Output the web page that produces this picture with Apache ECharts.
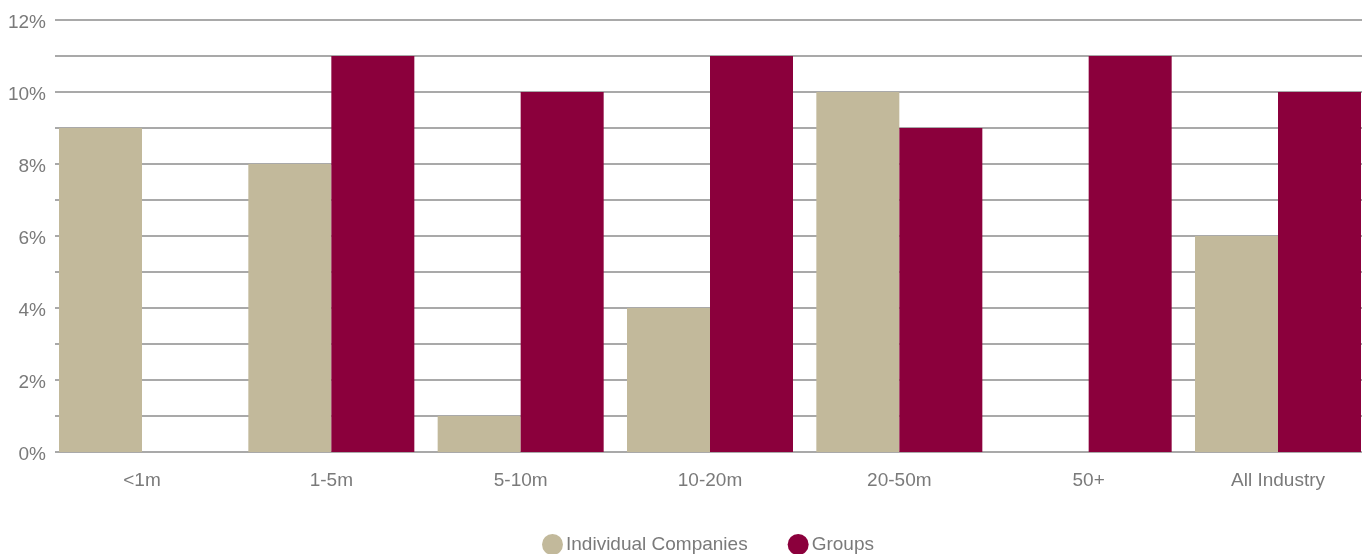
<!DOCTYPE html>
<html>
<head>
<meta charset="utf-8">
<script src="https://cdn.jsdelivr.net/npm/echarts@6/dist/echarts.min.js"></script>
<style>
html,body{margin:0;padding:0;background:#fff;}
#c{width:1370px;height:554px;}
</style>
</head>
<body>
<div id="c"></div>
<script>
const categories = ['<1m', '1-5m', '5-10m', '10-20m', '20-50m', '50+', 'All Industry'];
const individualCompanies = [9, 8, 1, 4, 10, 0, 6];
const groups = [0, 11, 10, 11, 9, 11, 10];
const yTicks = [0, 2, 4, 6, 8, 10, 12];

const font = 'Liberation Sans, Arial, Helvetica, sans-serif';
const textColor = '#7a7a7a';
const chart = echarts.init(document.getElementById('c'), null, {renderer: 'canvas'});
chart.setOption({
  animation: false,
  backgroundColor: '#fff',
  grid: [
    {left: 55, right: 8, top: 20, bottom: 102},
    {left: 142, width: 1136, top: 20, bottom: 102}
  ],
  legend: {
    data: ['Individual Companies', 'Groups'],
    left: 537, top: 529,
    icon: 'circle', itemWidth: 21, itemHeight: 21, itemGap: 40,
    textStyle: {fontFamily: font, fontSize: 19, color: textColor, padding: [0, 0, 0, -2]}
  },
  xAxis: [
    {type: 'category', gridIndex: 0, data: categories, show: false},
    {type: 'category', gridIndex: 1, data: categories, boundaryGap: false,
     axisLine: {show: false}, axisTick: {show: false},
     axisLabel: {fontFamily: font, fontSize: 19, color: textColor, margin: 19}}
  ],
  yAxis: [
    {type: 'value', gridIndex: 0, min: 0, max: 12, interval: 1,
     axisLine: {show: false}, axisTick: {show: false},
     axisLabel: {fontFamily: font, fontSize: 19, color: textColor, margin: 9,
       formatter: v => yTicks.includes(v) ? '{p|' + v + '%}' : '',
       rich: {p: {fontFamily: font, fontSize: 19, color: textColor, padding: [5, 0, 0, 0]}}},
     splitLine: {show: true, lineStyle: {color: '#8c8c8c', width: 1.5}}},
    {type: 'value', gridIndex: 1, min: 0, max: 12, interval: 1, show: false}
  ],
  series: [
    {name: 'Individual Companies', type: 'bar', xAxisIndex: 1, yAxisIndex: 1,
     data: individualCompanies, barWidth: 83, barGap: '0%', clip: false,
     itemStyle: {color: '#C2B99B'}},
    {name: 'Groups', type: 'bar', xAxisIndex: 1, yAxisIndex: 1,
     data: groups, barWidth: 83, barGap: '0%', clip: false,
     itemStyle: {color: '#8B003C'}}
  ]
});
</script>
</body>
</html>
